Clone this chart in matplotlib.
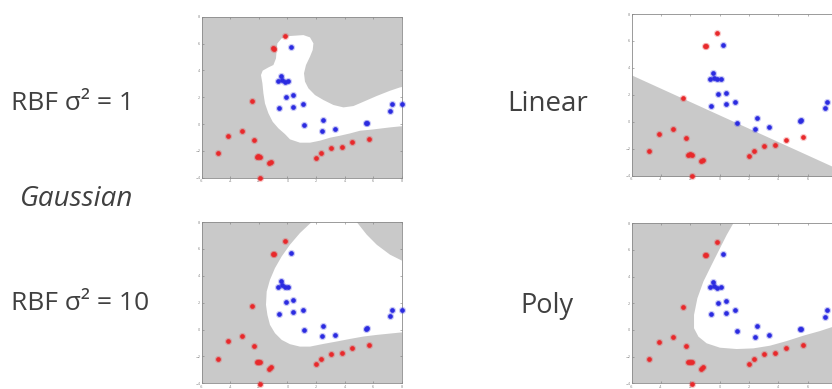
import matplotlib
matplotlib.use('Agg')
import matplotlib.pyplot as plt
import numpy as np

# ---------------- data ----------------
red_x = [-0.17, -0.98, -0.91, -2.50, -3.20, -4.13, -2.31, -4.83, -2.15, -2.03, -1.92,
         -1.29, -1.17, -1.92, 2.00, 2.33, 3.03, 3.80, 4.55, 5.71]
red_y = [6.58, 5.64, 5.59, 1.74, -0.50, -0.89, -1.19, -2.19, -2.43, -2.39, -2.43,
         -2.93, -2.81, -4.05, -2.56, -2.19, -1.81, -1.71, -1.37, -1.12]
blue_x = [0.23, -0.47, -0.63, -0.40, -0.17, 0.07, -0.10, 0.42, -0.56, 0.42, 1.07,
          1.16, 2.52, 2.40, 3.33, 5.48, 5.55, 7.18, 7.35, 8.00]
blue_y = [5.71, 3.60, 3.20, 3.28, 3.16, 3.20, 2.04, 2.16, 1.17, 1.29, 1.47,
          -0.07, 0.27, -0.50, -0.40, 0.05, 0.10, 0.99, 1.49, 1.49]

# decision boundaries (white = blue class region)
rbf1_x = [-0.70, -0.40, 0.18, 1.12, 1.58, 1.82, 1.77, 1.58, 1.30, 1.16, 1.23, 1.47, 1.93,
          2.52, 3.22, 3.92, 4.62, 5.32, 6.25, 7.18, 7.88, 8.50, 8.50, 8.12, 7.18, 6.02,
          5.08, 4.38, 3.68, 2.98, 2.28, 1.58, 0.88, 0.18, -0.17, -0.63, -1.03, -1.33,
          -1.57, -1.68, -1.75, -1.85, -1.73, -1.33, -0.98, -0.80, -0.75]
rbf1_y = [6.01, 6.39, 6.56, 6.63, 6.46, 6.01, 5.52, 5.02, 4.40, 3.78, 3.16, 2.66, 2.16,
          1.79, 1.42, 1.24, 1.34, 1.66, 2.09, 2.48, 2.73, 2.85, -0.16, -0.15, -0.25, -0.40,
          -0.50, -0.70, -0.87, -1.02, -1.24, -1.39, -1.39, -1.14, -0.75, -0.32, 0.17, 0.80,
          1.54, 2.29, 3.03, 3.65, 3.98, 4.22, 4.40, 4.89, 5.52]

rbf10_x = [2.05, 4.85, 5.55, 6.25, 7.18, 8.12, 8.50, 8.50, 8.12, 7.18, 6.25, 5.32, 4.38,
           3.45, 2.52, 1.58, 0.88, 0.18, -0.40, -0.87, -1.22, -1.40, -1.50, -1.45, -1.22,
           -0.87, -0.40, 0.18, 0.88, 1.70]
rbf10_y = [8.50, 8.00, 7.06, 6.31, 5.57, 5.07, 4.95, -0.19, -0.20, -0.30, -0.40, -0.52, -0.70,
           -0.89, -1.07, -1.27, -1.27, -1.09, -0.77, -0.27, 0.35, 1.09, 1.84, 2.83, 3.70,
           4.57, 5.44, 6.31, 7.18, 8.00]

poly_x = [1.05, 0.93, 0.48, 0.02, -0.55, -1.11, -1.52, -1.75, -1.75, -1.45, -0.89, 0.02,
          1.16, 2.30, 3.43, 4.57, 5.70, 6.84, 7.75, 8.50, 8.50]
poly_y = [8.50, 8.00, 7.13, 6.13, 4.88, 3.63, 2.38, 1.13, 0.13, -0.50, -1.00, -1.33,
          -1.43, -1.38, -1.18, -0.83, -0.43, -0.08, 0.25, 0.55, 8.50]

# linear boundary: y = lin_b + lin_m * x
lin_m = -0.495
lin_b = 0.50

xticks = [-6, -4, -2, 0, 2, 4, 6, 8]
yticks = [-4, -2, 0, 2, 4, 6, 8]

labels = ["RBF σ² = 1", "Gaussian", "RBF σ² = 10", "Linear", "Poly"]

# ---------------- figure ----------------
W, H = 832, 389
fig = plt.figure(figsize=(W / 100, H / 100), dpi=100)
GRAY = '#c9c9c9'
RED = '#e8292b'
BLUE = '#2b2be0'
TXT = '#404040'


def px_axes(l, t, r, b):
    return fig.add_axes([l / W, 1 - b / H, (r - l) / W, (b - t) / H])


def style(ax, cut_right=False):
    ax.set_xlim(-6, 8)
    ax.set_ylim(-4, 8)
    ax.set_xticks(xticks)
    ax.set_yticks(yticks)
    xl = [str(t) for t in xticks]
    if cut_right:
        xl[-1] = ''   # lies beyond the picture's right edge
    ax.set_xticklabels(xl)
    ax.tick_params(direction='in', length=1.5, width=0.4, labelsize=2.5,
                   labelcolor='#888888', color='#777777', pad=1.0,
                   top=True, right=True)
    for s in ax.spines.values():
        s.set_color('#8a8a8a')
        s.set_linewidth(0.6)


def points(ax):
    for xs, ys, c in ((red_x, red_y, RED), (blue_x, blue_y, BLUE)):
        ax.plot(xs, ys, 'o', ms=5.2, color=c, alpha=0.25, mec='none', clip_on=False, zorder=4)
        ax.plot(xs, ys, 'o', ms=3.4, color=c, mec='none', clip_on=False, zorder=5)


# top-left RBF 1
ax1 = px_axes(201.7, 16.7, 401.7, 177.7)
ax1.set_facecolor(GRAY)
ax1.fill(rbf1_x, rbf1_y, color='white', lw=0, zorder=1)
style(ax1); points(ax1)

# bottom-left RBF 10
ax2 = px_axes(201.7, 222.0, 401.7, 383.3)
ax2.set_facecolor(GRAY)
ax2.fill(rbf10_x, rbf10_y, color='white', lw=0, zorder=1)
style(ax2); points(ax2)

# top-right linear
ax3 = px_axes(631.7, 14.0, 837.0, 175.7)
ax3.set_facecolor('white')
lx = np.array([-6.5, 8.5])
ax3.fill_between(lx, -5, lin_b + lin_m * lx, color=GRAY, lw=0, zorder=1)
style(ax3, True); points(ax3)

# bottom-right poly
ax4 = px_axes(631.7, 223.3, 837.0, 383.3)
ax4.set_facecolor(GRAY)
ax4.fill(poly_x, poly_y, color='white', lw=0, zorder=1)
style(ax4, True); points(ax4)

font = ['Open Sans', 'DejaVu Sans']
fs = 20
fig.text(11 / W, 1 - 104 / H, labels[0], ha='left', va='center', fontsize=19, color=TXT, family=font)
fig.text(20 / W, 1 - 199 / H, labels[1], ha='left', va='center', fontsize=fs, color=TXT,
         family=font, style='italic')
fig.text(11 / W, 1 - 304 / H, labels[2], ha='left', va='center', fontsize=19, color=TXT, family=font)
fig.text(507 / W, 1 - 104 / H, labels[3], ha='left', va='center', fontsize=fs, color=TXT, family=font)
fig.text(520 / W, 1 - 306 / H, labels[4], ha='left', va='center', fontsize=19.5, color=TXT, family=font)

fig.savefig('out.png', dpi=100)
